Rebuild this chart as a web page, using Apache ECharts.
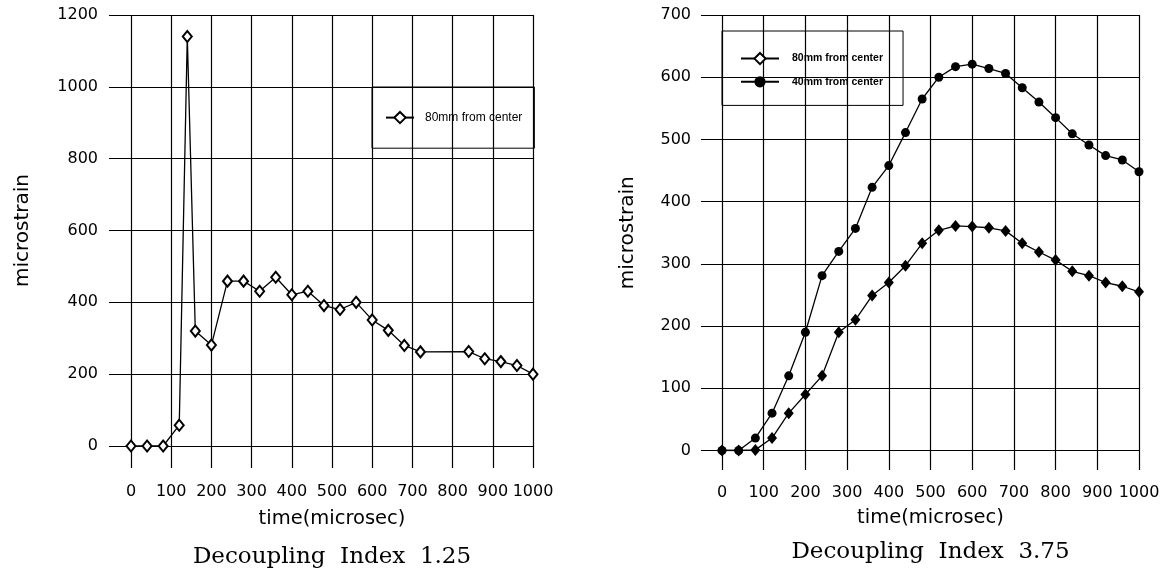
<!DOCTYPE html>
<html>
<head>
<meta charset="utf-8">
<script src="https://cdn.jsdelivr.net/npm/echarts@6/dist/echarts.min.js"></script>
<style>
html,body{margin:0;padding:0;background:#fff;}
#chart{width:1168px;height:574px;}
</style>
</head>
<body>
<div id="chart"></div>
<script>
// ---- data: Decoupling Index 1.25 ----
const timeL = [0,40,80,120,140,160,200,240,280,320,360,400,440,480,520,560,600,640,680,720,840,880,920,960,1000];
const strain80L = [0,0,0,58,1140,320,281,459,459,431,470,421,431,391,380,400,351,322,280,262,263,243,235,224,200];
// ---- data: Decoupling Index 3.75 ----
const timeR = [0,40,80,120,160,200,240,280,320,360,400,440,480,520,560,600,640,680,720,760,800,840,880,920,960,1000];
const strain80R = [0,0,1,20,60,90,120,190,210,249,270,297,333,354,361,360,358,353,333,319,306,288,281,270,264,255];
const strain40R = [0,0,20,60,120,190,281,320,357,423,458,511,565,600,617,621,614,606,583,560,535,509,491,474,467,448];
const name80 = '80mm from center';
const name40 = '40mm from center';
const yTitle = 'microstrain';
const xTitle = 'time(microsec)';
const subL = 'Decoupling  Index  1.25';
const subR = 'Decoupling  Index  3.75';

const pairs = (xs, ys) => xs.map((x, i) => [x, ys[i]]);

// ---- layout (pixels) ----
const L = {x0:131, x1:533, hStart:109, yTop:15, y0:446, vEnd:468, ymax:1200, yint:200};
const R = {x0:722, x1:1139, hStart:701, yTop:15, y0:450.5, vEnd:470, ymax:700, yint:100};

function xMinOf(p){ return -(p.x0 - p.hStart) / (p.x1 - p.x0) * 1000; }
function yMinOf(p){ return -(p.vEnd - p.y0) / (p.y0 - p.yTop) * p.ymax; }

const black = '#000';
const plain = v => String(v);
const tickFont = {fontFamily:'DejaVu Sans', fontSize:16, color:black, formatter:plain};
const split = {show:true, lineStyle:{color:black, width:1.2}};

function gridsFor(p){
  return [
    {left:p.hStart, top:p.yTop, width:p.x1-p.hStart, height:p.y0-p.yTop, outerBoundsMode:'none', containLabel:false},
    {left:p.x0, top:p.yTop, width:p.x1-p.x0, height:p.vEnd-p.yTop, outerBoundsMode:'none', containLabel:false}
  ];
}

const option = {
  animation:false,
  backgroundColor:'#fff',
  textStyle:{fontFamily:'DejaVu Sans', color:black},
  grid: [...gridsFor(L), ...gridsFor(R)],
  xAxis: [
    {gridIndex:0, type:'value', min:xMinOf(L), max:1000, show:false},
    {gridIndex:1, type:'value', min:0, max:1000, interval:100,
     axisLine:{show:false}, axisTick:{show:false}, splitLine:split,
     axisLabel:Object.assign({margin:16}, tickFont),
     name:xTitle, nameLocation:'middle', nameGap:41,
     nameTextStyle:{fontFamily:'DejaVu Sans', fontSize:19.5, color:black}},
    {gridIndex:2, type:'value', min:xMinOf(R), max:1000, show:false},
    {gridIndex:3, type:'value', min:0, max:1000, interval:100,
     axisLine:{show:false}, axisTick:{show:false}, splitLine:split,
     axisLabel:Object.assign({margin:15}, tickFont),
     name:xTitle, nameLocation:'middle', nameGap:38,
     nameTextStyle:{fontFamily:'DejaVu Sans', fontSize:19.5, color:black}}
  ],
  yAxis: [
    {gridIndex:0, type:'value', min:0, max:L.ymax, interval:L.yint,
     axisLine:{show:false}, axisTick:{show:false}, splitLine:split,
     axisLabel:Object.assign({margin:11}, tickFont),
     name:yTitle, nameLocation:'middle', nameGap:76, nameRotate:90,
     nameTextStyle:{fontFamily:'DejaVu Sans', fontSize:20, color:black}},
    {gridIndex:1, type:'value', min:yMinOf(L), max:L.ymax, show:false},
    {gridIndex:2, type:'value', min:0, max:R.ymax, interval:R.yint,
     axisLine:{show:false}, axisTick:{show:false}, splitLine:split,
     axisLabel:Object.assign({margin:10}, tickFont),
     name:yTitle, nameLocation:'middle', nameGap:63, nameRotate:90,
     nameTextStyle:{fontFamily:'DejaVu Sans', fontSize:20, color:black}},
    {gridIndex:3, type:'value', min:yMinOf(R), max:R.ymax, show:false}
  ],
  legend: [
    {left:372, top:87, orient:'horizontal', padding:[24,12,24,13],
     borderColor:black, borderWidth:1, itemWidth:28, itemHeight:14,
     data:[name80],
     textStyle:{fontFamily:'Liberation Sans Narrow, Liberation Sans', fontSize:12, color:black, width:76, padding:[0,0,0,6]}},
    {left:722, top:31, orient:'vertical', padding:[21,20,18,18],
     borderColor:black, borderWidth:1, itemWidth:38, itemHeight:14, itemGap:11,
     data:[name80, name40],
     textStyle:{fontFamily:'Liberation Sans', fontWeight:'bold', fontSize:10.5, color:black, width:90, padding:[0,0,0,8]}}
  ],
  series: [
    {name:name80, type:'line', xAxisIndex:0, yAxisIndex:0, data:pairs(timeL, strain80L),
     symbol:'emptyDiamond', symbolSize:[9,11], showSymbol:true,
     itemStyle:{color:black, borderColor:black, borderWidth:2},
     lineStyle:{color:black, width:1.3}, z:3},
    {name:name80, type:'line', xAxisIndex:2, yAxisIndex:2, data:pairs(timeR, strain80R),
     symbol:'diamond', symbolSize:[10,12], showSymbol:true,
     itemStyle:{color:black},
     lineStyle:{color:black, width:1.3}, z:3},
    {name:name40, type:'line', xAxisIndex:2, yAxisIndex:2, data:pairs(timeR, strain40R),
     symbol:'circle', symbolSize:9, showSymbol:true,
     itemStyle:{color:black},
     lineStyle:{color:black, width:1.3}, z:3}
  ],
  graphic: [
    {type:'text', x:(L.x0+L.x1)/2, y:557, style:{text:subL, fontFamily:'DejaVu Serif', fontSize:23, fill:black, align:'center', verticalAlign:'middle'}},
    {type:'text', x:(R.x0+R.x1)/2, y:552, style:{text:subR, fontFamily:'DejaVu Serif', fontSize:23, fill:black, align:'center', verticalAlign:'middle'}}
  ]
};

const chart = echarts.init(document.getElementById('chart'), null, {renderer:'canvas'});
chart.setOption(option);
</script>
</body>
</html>
